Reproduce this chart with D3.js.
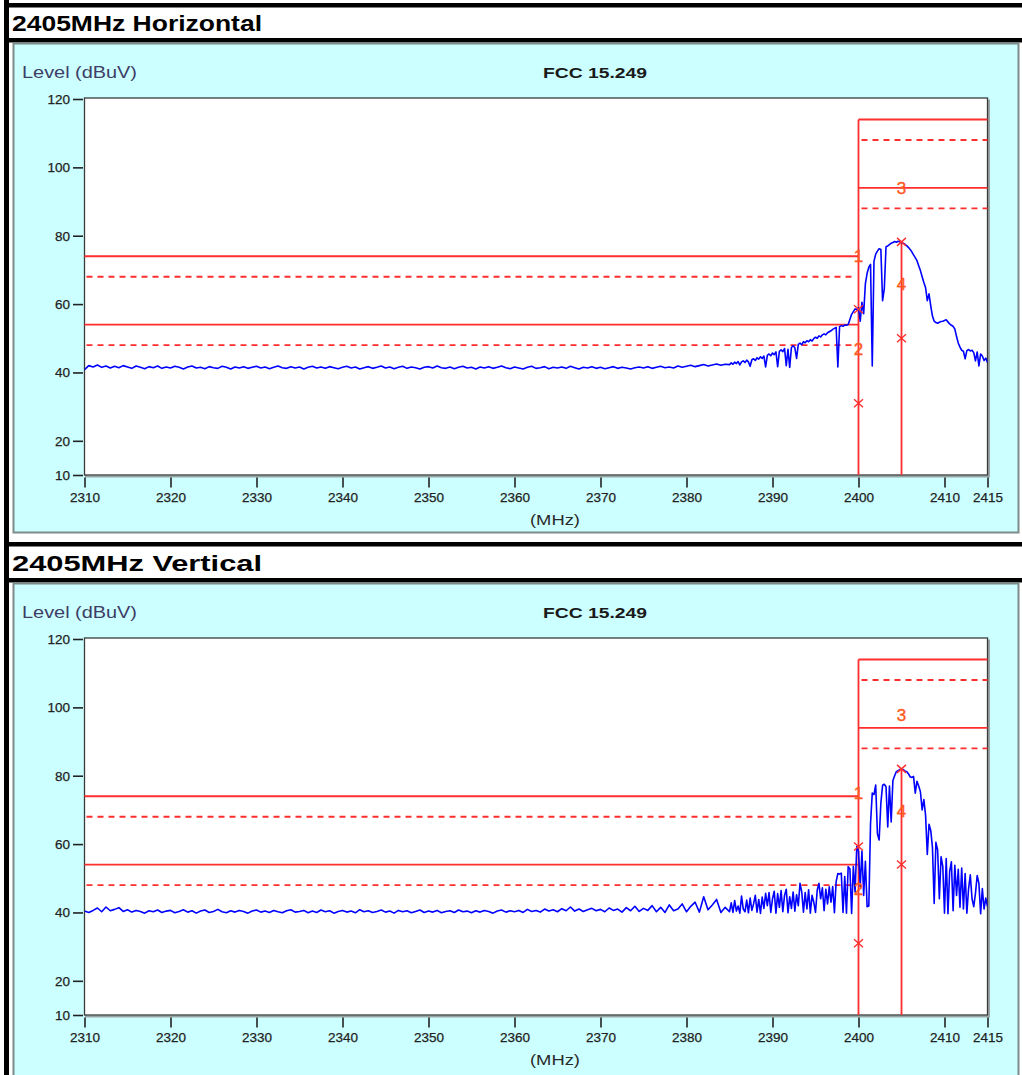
<!DOCTYPE html>
<html><head><meta charset="utf-8">
<script src="https://cdn.jsdelivr.net/npm/d3@7/dist/d3.min.js"></script>
<style>body{margin:0;background:#fff;}svg{display:block;}</style>
</head><body>
<svg id="c" width="1022" height="1075"></svg>
<script>
// ---------- data ----------
const panelTitles = ["2405MHz Horizontal", "2405MHz Vertical"];
const chartTitle = "FCC 15.249";
const yAxisTitle = "Level (dBuV)";
const xAxisTitle = "(MHz)";
const freqTicks = [2310, 2320, 2330, 2340, 2350, 2360, 2370, 2380, 2390, 2400, 2410, 2415];
const levelTicks = [10, 20, 40, 60, 80, 100, 120];

// trace sampling: low segment 2310..2384.5 step 0.5, high segment 2385..2415 step 0.2
const lowStart = 2310, lowStep = 0.5;
const highStart = 2385, highStep = 0.2;

const levelH_low = [
40.8,42.0,41.6,42.2,41.5,41.9,41.3,41.8,41.4,42.0,
41.6,41.2,41.9,41.5,41.1,41.7,41.4,41.9,41.2,41.6,
41.3,41.8,41.5,41.0,41.6,41.9,41.3,41.5,41.1,41.7,
41.4,41.2,41.8,41.5,41.0,41.6,41.3,41.7,41.2,41.5,
41.8,41.3,41.6,41.1,41.5,41.9,41.4,41.2,41.7,41.3,
41.6,41.0,41.5,41.8,41.3,41.6,41.2,41.7,41.4,41.1,
41.5,41.8,41.3,41.6,41.0,41.4,41.7,41.2,41.5,41.9,
41.3,41.6,41.1,41.5,41.8,41.2,41.6,41.4,41.0,41.5,
41.7,41.3,41.9,41.4,41.2,41.6,41.1,41.5,41.8,41.3,
41.5,41.0,41.6,41.3,41.7,41.2,41.5,41.9,41.4,41.1,
41.6,41.3,41.0,41.5,41.8,41.2,41.4,41.7,41.1,41.5,
41.3,41.6,41.2,41.8,41.4,41.0,41.5,41.3,41.7,41.2,
41.5,41.1,41.4,41.7,41.2,41.5,41.3,41.0,41.4,41.6,
41.3,41.7,41.2,41.5,41.8,41.4,41.6,41.3,41.9,41.5,
41.8,42.1,41.7,42.0,42.3,41.9,42.2,42.5,42.1,42.4];
const levelH_high = [
42.3,42.8,42.4,43.0,42.6,43.2,42.2,43.1,43.4,42.9,
43.6,43.1,41.8,43.7,44.0,43.5,44.3,43.9,44.6,44.1,
44.8,41.6,45.0,45.4,44.9,45.7,45.2,46.0,41.7,46.2,
46.6,46.1,47.0,42.0,46.8,41.5,47.3,47.8,47.2,44.1,
48.2,48.6,48.1,49.0,48.7,49.3,49.0,49.6,49.2,49.9,
50.3,50.0,50.7,50.4,51.0,51.3,51.0,51.6,51.9,52.2,
52.6,52.9,53.2,41.6,53.4,53.7,53.5,53.9,53.8,54.0,
55.5,57.0,57.8,58.6,58.4,58.9,55.0,60.5,57.2,66.0,
69.0,70.8,71.6,41.9,72.5,74.6,75.5,76.2,76.0,61.0,
64.5,76.8,77.0,77.4,77.8,78.0,78.3,78.1,78.4,78.2,
78.0,77.8,77.5,77.1,76.6,76.0,75.3,74.4,73.6,72.7,
71.2,69.8,68.0,66.3,64.8,61.0,63.0,59.5,56.5,55.0,
54.6,54.4,54.7,54.9,55.0,55.2,55.4,54.8,54.2,53.8,
53.5,52.7,50.5,48.6,47.4,46.5,46.2,44.0,46.4,46.7,
46.3,46.5,45.8,43.4,46.0,41.9,45.4,44.8,43.5,44.2,
42.9];

const levelV_low = [
40.4,40.0,40.6,41.3,40.2,41.6,40.5,40.9,41.4,40.3,
40.8,40.1,40.6,40.3,39.8,40.5,40.2,40.7,40.0,40.4,
40.6,39.9,40.3,40.8,40.1,40.5,39.8,40.4,40.7,40.0,
40.3,40.9,40.2,39.9,40.5,40.1,40.6,40.3,39.8,40.4,
40.7,40.1,40.4,40.0,40.6,40.2,39.9,40.5,40.8,40.1,
40.3,40.6,39.9,40.4,40.0,40.7,40.2,40.5,39.8,40.3,
40.6,40.1,40.4,39.9,40.8,40.2,40.5,40.0,40.3,40.7,
40.1,40.4,39.8,40.6,40.2,40.5,39.9,40.3,40.7,40.0,
40.4,40.1,40.6,39.9,40.3,40.5,40.0,40.7,40.2,40.4,
39.9,40.5,40.1,40.6,40.3,39.8,40.4,40.7,40.1,40.5,
40.2,40.6,40.0,40.9,40.3,40.6,40.1,41.0,40.4,40.8,
40.2,41.1,40.5,41.6,40.4,41.0,40.3,40.8,41.2,40.5,
40.9,40.2,41.3,40.6,41.0,40.1,41.4,40.5,41.8,40.3,
41.2,40.6,42.0,40.2,41.5,40.0,42.2,40.5,41.0,42.5,
40.2,41.8,43.0,40.1,44.6,40.8,42.2,43.8,40.0,41.5];
const levelV_high = [
40.2,42.8,40.0,43.5,40.4,41.9,39.8,44.8,41.0,40.2,
43.6,39.9,44.2,40.6,42.5,45.0,40.1,43.8,39.7,44.5,
41.2,45.6,42.0,45.8,40.0,44.0,46.2,39.8,45.5,41.5,
46.4,40.2,45.0,46.8,39.9,44.6,41.2,46.0,40.4,45.2,
42.0,48.5,46.0,40.1,45.8,41.0,46.6,39.8,45.0,43.0,
40.0,46.5,48.5,44.0,47.2,40.5,46.8,42.5,47.5,43.0,
47.6,39.9,49.0,51.4,51.2,51.5,40.0,50.5,39.8,53.4,
52.8,39.7,53.5,46.0,59.3,57.8,47.5,58.0,45.0,55.0,
41.7,41.9,66.0,74.9,74.5,77.3,63.0,61.2,72.0,77.2,
77.5,76.8,65.0,77.0,66.5,78.6,80.0,81.2,81.5,81.8,
82.0,81.8,81.4,81.2,80.6,79.7,79.5,79.8,74.9,78.4,
77.0,75.3,70.0,73.0,68.4,57.0,65.8,64.0,59.0,42.6,
60.5,58.3,44.0,56.3,53.5,39.8,55.8,39.6,52.0,54.8,
40.5,53.8,45.0,52.6,41.5,53.0,41.0,51.4,39.8,47.0,
51.0,44.0,41.7,45.6,50.8,48.5,39.6,47.0,41.0,44.2,
41.8];

// limit lines (dBuV)
const bandEdge = 2400, carrier = 2405;
const limitsBelowEdge = [74, 54];
const marginsBelowEdge = [68, 48];
const limitsAboveEdge = [114, 94];
const marginsAboveEdge = [108, 88];

// markers (x symbols) and their number labels
const markersH = [[2400, 58.5], [2400, 31], [2405, 78.2], [2405, 50]];
const markersV = [[2400, 59.3], [2400, 31], [2405, 82], [2405, 54]];
const markerLabelsH = [["1", 2400, 74], ["2", 2400, 47], ["3", 2405, 94], ["4", 2405, 66]];
const markerLabelsV = [["1", 2400, 75], ["2", 2400, 47], ["3", 2405, 97.7], ["4", 2405, 69.6]];
const carrierPeaks = [78.2, 82];

// ---------- drawing ----------
const svg = d3.select("#c");
const RED = "#ff2e2e", BLUE = "#0000ff", CYAN = "#ccffff";

svg.append("rect").attr("x", 4).attr("y", 0).attr("width", 5).attr("height", 1075).attr("fill", "#000");

function panel(idx, low, high, markers, labels, peak) {
  const oy = idx * 540;
  const g = svg.append("g");
  g.append("rect").attr("x", 4).attr("y", 3 + oy - (idx ? 1 : 0)).attr("width", 1018).attr("height", 4.5).attr("fill", "#000");
  g.append("rect").attr("x", 4).attr("y", 38 + oy).attr("width", 1018).attr("height", 4.5).attr("fill", "#000");
  g.append("text").text(panelTitles[idx])
    .attr("x", 12).attr("y", 30.5 + oy)
    .attr("font-family", "Liberation Sans, Arial, sans-serif").attr("font-weight", "bold")
    .attr("font-size", 22).attr("textLength", 250).attr("lengthAdjust", "spacingAndGlyphs").attr("fill", "#000");
  const ph = idx ? 500 : 489;
  g.append("rect").attr("x", 13.5).attr("y", 43.5 + oy).attr("width", 1005).attr("height", ph)
    .attr("fill", CYAN).attr("stroke", "#7d8a8a").attr("stroke-width", 2);

  const x = d3.scaleLinear().domain([2310, 2415]).range([84.5, 987.5]);
  const y = d3.scaleLinear().domain([10, 120]).range([475 + oy, 99 + oy]);

  g.append("rect").attr("x", x(2310) + 1.5).attr("y", y(120) + 1.5).attr("width", x(2415) - x(2310)).attr("height", y(10) - y(120))
    .attr("fill", "none").attr("stroke", "#9aa6a6").attr("stroke-width", 2);
  g.append("rect").attr("x", x(2310)).attr("y", y(120) - 1).attr("width", x(2415) - x(2310)).attr("height", y(10) - y(120) + 1)
    .attr("fill", "#fff").attr("stroke", "#3a3a3a").attr("stroke-width", 1.3);

  const ya = d3.axisLeft(y).tickValues(levelTicks).tickSize(10).tickPadding(3).tickFormat(d3.format("d"));
  const yg = g.append("g").attr("transform", `translate(${x(2310) - 1.5},0)`).call(ya);
  const xa = d3.axisBottom(x).tickValues(freqTicks).tickSize(10).tickPadding(5).tickFormat(d3.format("d"));
  const xg = g.append("g").attr("transform", `translate(0,${y(10) + 2.5})`).call(xa);
  [yg, xg].forEach(a => {
    a.select(".domain").remove();
    a.selectAll(".tick line").attr("stroke", "#222").attr("stroke-width", 1.6);
    a.selectAll(".tick text").attr("font-family", "Liberation Sans, Arial, sans-serif").attr("font-size", 13.5)
      .attr("fill", "#222").attr("stroke", "#222").attr("stroke-width", 0.25);
  });

  g.append("text").text(yAxisTitle).attr("x", 22).attr("y", 77.5 + oy)
    .attr("font-family", "Liberation Sans, Arial, sans-serif").attr("font-size", 16.5)
    .attr("textLength", 115).attr("lengthAdjust", "spacingAndGlyphs").attr("fill", "#3d3d66");
  g.append("text").text(chartTitle).attr("x", 595).attr("y", 78 + oy).attr("text-anchor", "middle")
    .attr("font-family", "Liberation Sans, Arial, sans-serif").attr("font-weight", "bold").attr("font-size", 15.5)
    .attr("textLength", 104).attr("lengthAdjust", "spacingAndGlyphs").attr("fill", "#1a1a1a");
  g.append("text").text(xAxisTitle).attr("x", 555).attr("y", 524.5 + oy).attr("text-anchor", "middle")
    .attr("font-family", "Liberation Sans, Arial, sans-serif").attr("font-size", 15)
    .attr("textLength", 50).attr("lengthAdjust", "spacingAndGlyphs").attr("fill", "#2a2a2a");

  const lg = g.append("g").attr("stroke", RED).attr("stroke-width", 1.8).attr("fill", "none");
  limitsBelowEdge.forEach(v => lg.append("line").attr("x1", x(2310)).attr("x2", x(bandEdge)).attr("y1", y(v)).attr("y2", y(v)));
  marginsBelowEdge.forEach(v => lg.append("line").attr("x1", x(2310) + 2).attr("x2", x(bandEdge) - 2).attr("y1", y(v)).attr("y2", y(v)).attr("stroke-dasharray", "6,5"));
  limitsAboveEdge.forEach(v => lg.append("line").attr("x1", x(bandEdge)).attr("x2", x(2415)).attr("y1", y(v)).attr("y2", y(v)));
  marginsAboveEdge.forEach(v => lg.append("line").attr("x1", x(bandEdge) + 3).attr("x2", x(2415)).attr("y1", y(v)).attr("y2", y(v)).attr("stroke-dasharray", "6,5"));
  lg.append("line").attr("x1", x(bandEdge)).attr("x2", x(bandEdge)).attr("y1", y(10)).attr("y2", y(d3.max(limitsAboveEdge)));
  lg.append("line").attr("x1", x(carrier)).attr("x2", x(carrier)).attr("y1", y(10)).attr("y2", y(peak));

  const pts = low.map((v, i) => [lowStart + i * lowStep, v]).concat(high.map((v, i) => [highStart + i * highStep, v]));
  const clipId = "clip" + idx;
  g.append("clipPath").attr("id", clipId).append("rect").attr("x", x(2310)).attr("y", y(120)).attr("width", x(2415) - x(2310)).attr("height", y(10) - y(120));
  g.append("path").datum(pts).attr("clip-path", `url(#${clipId})`)
    .attr("d", d3.line().x(d => x(d[0])).y(d => y(d[1])))
    .attr("fill", "none").attr("stroke", BLUE).attr("stroke-width", 1.6).attr("stroke-linejoin", "round");

  g.selectAll(".mk").data(markers).enter().append("path")
    .attr("transform", d => `translate(${x(d[0])},${y(d[1])})`)
    .attr("d", "M-4.5,-4L4.5,4M-4.5,4L4.5,-4")
    .attr("stroke", RED).attr("stroke-width", 1.4).attr("fill", "none");
  g.selectAll(".lb").data(labels).enter().append("text")
    .text(d => d[0]).attr("x", d => x(d[1])).attr("y", d => y(d[2]) + 6).attr("text-anchor", "middle")
    .attr("font-family", "Liberation Sans, Arial, sans-serif").attr("font-size", 17)
    .attr("fill", "#ff5a1e").attr("stroke", "#ff5a1e").attr("stroke-width", 0.4);
}

panel(0, levelH_low, levelH_high, markersH, markerLabelsH, carrierPeaks[0]);
panel(1, levelV_low, levelV_high, markersV, markerLabelsV, carrierPeaks[1]);
</script>
</body></html>
